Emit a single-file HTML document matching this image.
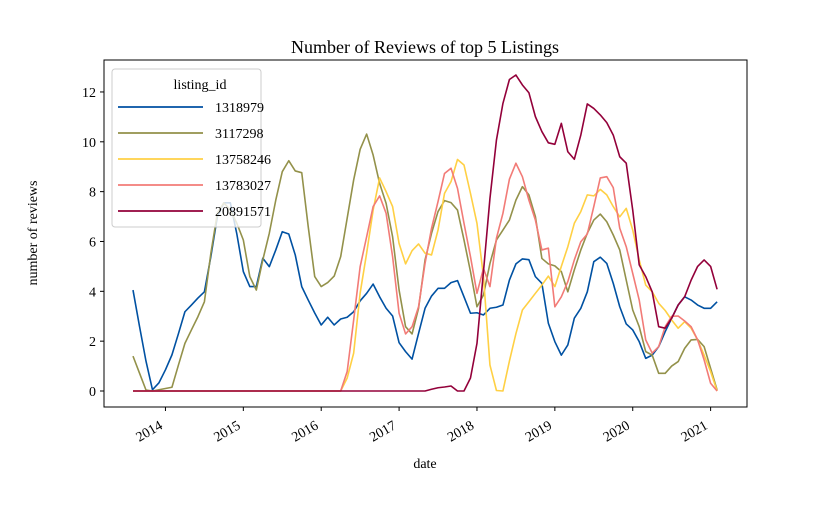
<!DOCTYPE html>
<html><head><meta charset="utf-8"><style>
html,body{margin:0;padding:0;background:#fff;}
svg{display:block;font-family:"Liberation Serif",serif;}
</style></head><body>
<svg id="chart" width="830" height="509" viewBox="0 0 830 509" xmlns="http://www.w3.org/2000/svg">
<rect x="0" y="0" width="830" height="509" fill="#fff"/>
<text x="425" y="53" font-size="18" text-anchor="middle">Number of Reviews of top 5 Listings</text>
<g id="plot"></g>
<rect x="104" y="60" width="643" height="347" fill="none" stroke="#000" stroke-width="1"/>
<text x="425" y="468" font-size="14" text-anchor="middle">date</text>
<text x="0" y="0" font-size="14" text-anchor="middle" transform="translate(37,233) rotate(-90)">number of reviews</text>
<g id="legend">
<rect x="112" y="69" width="149" height="158" rx="3" fill="#fff" fill-opacity="0.8" stroke="#ccc"/>
<text x="200" y="89" font-size="14" text-anchor="middle">listing_id</text>
</g>
</svg>
<script>
const startMonthIndex = 0; // Aug 2013
const yearTicks = ["2014","2015","2016","2017","2018","2019","2020","2021"];
const yearTickMonth = [5,17,29,41,53,65,77,89];
const yTicks = [0,2,4,6,8,10,12];
const seriesNames = ["1318979","3117298","13758246","13783027","20891571"];
const seriesColors = ["#0051a2","#93914a","#ffd044","#f27b77","#93003a"];
const s1318979 = [4.05,2.6,1.2,0.05,0.33,0.85,1.45,2.3,3.18,3.45,3.73,3.98,5.4,7.0,7.55,7.55,6.3,4.79,4.19,4.19,5.33,4.99,5.66,6.39,6.3,5.46,4.19,3.65,3.13,2.65,2.96,2.65,2.89,2.96,3.18,3.62,3.92,4.29,3.78,3.32,3.01,1.94,1.58,1.28,2.31,3.32,3.81,4.12,4.12,4.35,4.43,3.78,3.12,3.14,3.05,3.32,3.36,3.45,4.45,5.1,5.3,5.27,4.59,4.32,2.72,1.98,1.44,1.85,2.92,3.32,3.98,5.19,5.37,5.12,4.32,3.38,2.69,2.45,1.98,1.31,1.44,1.78,2.38,2.92,3.45,3.78,3.65,3.45,3.32,3.32,3.58];
const s3117298 = [1.4,0.72,0.04,0,0.05,0.1,0.15,1.04,1.91,2.45,2.98,3.58,5.53,7.14,7.55,7.26,6.73,6.06,4.59,4.05,5.26,6.33,7.66,8.8,9.24,8.83,8.76,6.59,4.59,4.19,4.35,4.61,5.39,6.93,8.47,9.7,10.31,9.47,8.33,7.53,6.19,4.05,2.58,2.29,3.32,5.26,6.33,7.2,7.64,7.56,7.26,6.06,4.79,3.38,3.85,5.12,6.06,6.46,6.86,7.66,8.2,7.87,7.0,5.32,5.1,5.02,4.79,3.98,4.86,5.66,6.33,6.86,7.1,6.79,6.26,5.66,4.45,3.25,2.58,1.58,1.44,0.71,0.71,1.0,1.18,1.71,2.05,2.07,1.78,0.91,0.04];
const s13758246 = [0,0,0,0,0,0,0,0,0,0,0,0,0,0,0,0,0,0,0,0,0,0,0,0,0,0,0,0,0,0,0,0,0,0.52,1.52,3.93,5.53,7.26,8.55,8.0,7.4,5.92,5.1,5.63,5.9,5.53,5.46,6.46,7.93,8.4,9.29,9.07,7.93,6.73,4.59,1.04,0.02,0,1.2,2.3,3.25,3.58,3.92,4.25,4.61,4.19,5.0,5.79,6.73,7.2,7.87,7.83,8.09,7.87,7.4,6.99,7.33,6.46,5.26,4.25,3.98,3.52,3.23,2.85,2.52,2.78,2.52,2.05,1.44,0.78,0];
const s13783027 = [0,0,0,0,0,0,0,0,0,0,0,0,0,0,0,0,0,0,0,0,0,0,0,0,0,0,0,0,0,0,0,0,0,0.78,2.85,4.99,6.19,7.4,7.83,7.13,5.39,3.12,2.29,2.58,3.38,5.12,6.53,7.6,8.73,8.94,8.13,6.73,5.39,3.92,4.92,4.19,6.13,7.13,8.5,9.14,8.6,7.66,6.86,5.66,5.73,3.38,3.78,4.39,5.26,5.99,6.3,7.4,8.55,8.6,8.16,6.53,5.79,4.72,3.65,2.05,1.52,1.78,2.58,3.0,3.01,2.81,2.58,2.05,1.25,0.31,0];
const s20891571 = [0,0,0,0,0,0,0,0,0,0,0,0,0,0,0,0,0,0,0,0,0,0,0,0,0,0,0,0,0,0,0,0,0,0,0,0,0,0,0,0,0,0,0,0,0,0,0.07,0.13,0.16,0.2,0,0,0.52,1.91,4.79,7.73,10.07,11.54,12.5,12.68,12.28,11.97,11.01,10.41,9.96,9.9,10.74,9.6,9.3,10.27,11.52,11.34,11.08,10.77,10.27,9.4,9.14,7.26,5.06,4.59,3.98,2.58,2.52,2.92,3.45,3.78,4.45,5.0,5.26,5.0,4.08];
const seriesData = [s1318979,s3117298,s13758246,s13783027,s20891571];

const NS = "http://www.w3.org/2000/svg";
function xScale(i){ return 133 + (i - startMonthIndex) * 6.49; }
function yScale(v){ return 391 - v * 24.92; }
const plot = document.getElementById('plot');
const svg = document.getElementById('chart');
function mk(tag, attrs, parent){ const e=document.createElementNS(NS,tag); for(const k in attrs) e.setAttribute(k,attrs[k]); parent.appendChild(e); return e; }

yTicks.forEach(t=>{
  const y=yScale(t);
  const tk=mk('line',{x1:100,x2:104,y1:y,y2:y,stroke:'#000'},svg);
  
  
  const lb=mk('text',{x:96,y:y+5,'font-size':14,'text-anchor':'end'},svg);
  lb.textContent=String(t);
  
  
});
yearTicks.forEach((lab,k)=>{
  const x=xScale(yearTickMonth[k]);
  const tk=mk('line',{x1:x,x2:x,y1:407,y2:411,stroke:'#000'},svg);
  
  
  const lb=mk('text',{x:0,y:0,'font-size':14,'text-anchor':'end',transform:`translate(${x-2},${428}) rotate(-30)`},svg);
  lb.textContent=lab;
  
  
});
seriesData.forEach((arr,s)=>{
  const d=arr.map((v,i)=>(i?'L':'M')+xScale(i).toFixed(2)+','+yScale(v).toFixed(2)).join(' ');
  const p=mk('path',{d:d,fill:'none',stroke:seriesColors[s],'stroke-width':1.6,'stroke-linejoin':'round'},plot);
  
  
});
const legend=document.getElementById('legend');
seriesNames.forEach((n,s)=>{
  const y=107+s*26;
  const ln=mk('line',{x1:118,x2:203,y1:y,y2:y,stroke:seriesColors[s],'stroke-width':1.8},legend);
  
  
  const t=mk('text',{x:215,y:y+5,'font-size':14},legend);
  t.textContent=n;
  
  
});
</script>
</body></html>
